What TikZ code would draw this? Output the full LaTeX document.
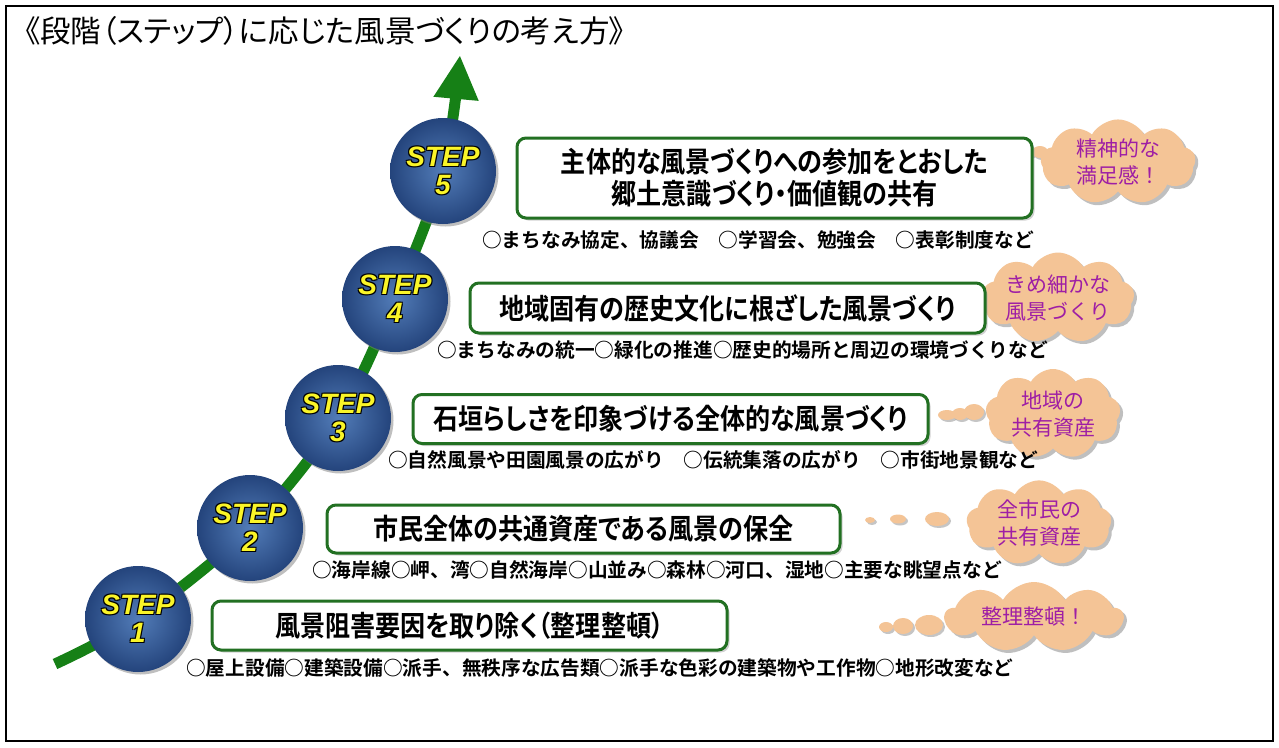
\documentclass[tikz,border=0pt]{standalone}
\usepackage{fontspec}
\newfontfamily\jp{Noto Sans CJK JP}[BoldFont={* Bold}]
\newfontfamily\jptitle{Noto Sans CJK JP}[RawFeature=+palt]
\newfontfamily\jpbox{Noto Sans CJK JP Bold}[RawFeature=+palt, FakeStretch=0.88]
\newfontfamily\stepfont{Liberation Sans}
\usetikzlibrary{shapes.symbols,shadows,arrows.meta}
\pgfdeclarelayer{background}
\pgfsetlayers{background,main}
\definecolor{lineGreen}{RGB}{22,128,22}
\definecolor{boxGreen}{RGB}{34,112,34}
\definecolor{ballIn}{RGB}{82,124,184}
\definecolor{ballOut}{RGB}{36,68,124}
\definecolor{stepYellow}{RGB}{250,245,40}
\definecolor{cloudFill}{RGB}{244,196,150}
\definecolor{cloudText}{RGB}{158,30,165}
\newcommand\stepoutline[1]{\leavevmode
  \rlap{\color{black}\kern1pt\raisebox{-1pt}{#1}}%
  \rlap{\color{black}\kern-1pt\raisebox{1pt}{#1}}%
  \rlap{\color{black}\kern1pt\raisebox{1pt}{#1}}%
  \rlap{\color{black}\kern-1pt\raisebox{-1pt}{#1}}%
  {\color{stepYellow}#1}}
\tikzset{
  stepball/.style={circle, minimum size=106pt, inner sep=0pt, inner color=ballIn, outer color=ballOut,
    drop shadow={shadow xshift=2.5pt, shadow yshift=-2.5pt, fill=black!50, opacity=0.5},
    align=center, font=\stepfont\bfseries\itshape\fontsize{28}{28}\selectfont},
  textbox/.style={draw=boxGreen, line width=3pt, rounded corners=9pt, fill=white,
    drop shadow={shadow xshift=2.5pt, shadow yshift=-2.5pt, fill=black!35, opacity=0.5},
    inner sep=0pt, align=center, font=\jpbox\fontsize{28.5}{32}\selectfont},
  subline/.style={anchor=west, inner sep=0pt, font=\jp\bfseries\fontsize{19.7}{20}\selectfont},
  cloudnode/.style={cloud, cloud puffs=9, cloud puff arc=120, cloud ignores aspect, fill=cloudFill,
    drop shadow={shadow xshift=3pt, shadow yshift=-3pt, fill=black!50, opacity=0.5},
    inner sep=0pt, align=center, text=cloudText, font=\jp\fontsize{21}{27}\selectfont},
  puff/.style={fill=cloudFill, drop shadow={shadow xshift=2pt, shadow yshift=-2pt, fill=black!45, opacity=0.5}},
  greenpath/.style={draw=lineGreen, line width=11pt, -{Triangle[length=44pt,width=42pt]}},
  frameline/.style={draw=black, line width=1.2pt},
  titletext/.style={anchor=west, inner sep=0pt, font=\jptitle\fontsize{30.5}{30.5}\selectfont}
}
\begin{document}
\begin{tikzpicture}[x=1pt,y=-1pt]
\useasboundingbox (0,0) rectangle (1279,747);
\begin{pgfonlayer}{background}
\fill[white] (0,0) rectangle (1279,747);
\end{pgfonlayer}
\draw[frameline] (6,6) rectangle (1273,741);
\node[titletext] (title) at (25,31) {《段階（ステップ）に応じた風景づくりの考え方》};

% thought clouds with their tails
\path[puff] (1016,151) ellipse (6 and 4);
\path[puff] (1028,152) ellipse (7 and 5);
\path[puff] (1040,152) ellipse (8 and 6);
\node[cloudnode, minimum width=155pt, minimum height=82pt] (c5) at (1118,162) {精神的な\\満足感！};

\path[puff] (957,298) ellipse (8 and 5);
\path[puff] (970,297) ellipse (9 and 6);
\path[puff] (984,295) ellipse (10 and 7);
\node[cloudnode, minimum width=130pt, minimum height=78pt] (c4) at (1058,298) {きめ細かな\\風景づくり};

\path[puff] (947,415) ellipse (9 and 5);
\path[puff] (960,414) ellipse (8 and 6);
\path[puff] (974,412) ellipse (10 and 8);
\node[cloudnode, minimum width=135pt, minimum height=90pt] (c3) at (1053,414) {地域の\\共有資産};

\path[puff] (870,520) ellipse (5 and 3);
\path[puff] (898,519) ellipse (8 and 4.5);
\path[puff] (937,519) ellipse (12 and 7);
\node[cloudnode, minimum width=145pt, minimum height=78pt] (c2) at (1039,523) {全市民の\\共有資産};

\path[puff] (886,627) ellipse (7 and 5);
\path[puff] (903,626) ellipse (10 and 8);
\path[puff] (929,625) ellipse (14 and 10);
\node[cloudnode, minimum width=178pt, minimum height=70pt] (c1) at (1034,617) {整理整頓！};

% boxes
\node[textbox, minimum width=515pt, minimum height=80pt] (b5) at (774.5,178) {主体的な風景づくりへの参加をとおした\\郷土意識づくり・価値観の共有};
\node[textbox, minimum width=515pt, minimum height=50pt] (b4) at (727.5,308) {地域固有の歴史文化に根ざした風景づくり};
\node[textbox, minimum width=515pt, minimum height=49pt] (b3) at (670.5,419) {石垣らしさを印象づける全体的な風景づくり};
\node[textbox, minimum width=513pt, minimum height=48pt] (b2) at (583.5,529) {市民全体の共通資産である風景の保全};
\node[textbox, minimum width=515pt, minimum height=49pt] (b1) at (469.5,625.5) {風景阻害要因を取り除く（整理整頓）};

% example lines
\node[subline] (t5) at (482,240) {○まちなみ協定、協議会　○学習会、勉強会　○表彰制度など};
\node[subline] (t4) at (437,350) {○まちなみの統一○緑化の推進○歴史的場所と周辺の環境づくりなど};
\node[subline] (t3) at (388,460) {○自然風景や田園風景の広がり　○伝統集落の広がり　○市街地景観など};
\node[subline] (t2) at (312,570) {○海岸線○岬、湾○自然海岸○山並み○森林○河口、湿地○主要な眺望点など};
\node[subline] (t1) at (186,668) {○屋上設備○建築設備○派手、無秩序な広告類○派手な色彩の建築物や工作物○地形改変など};

% step balls
\node[stepball] (s1) at (138,619) {\stepoutline{STEP}\\\stepoutline{1}};
\node[stepball] (s2) at (250,528) {\stepoutline{STEP}\\\stepoutline{2}};
\node[stepball] (s3) at (338,418) {\stepoutline{STEP}\\\stepoutline{3}};
\node[stepball] (s4) at (395,299) {\stepoutline{STEP}\\\stepoutline{4}};
\node[stepball] (s5) at (443,171) {\stepoutline{STEP}\\\stepoutline{5}};

\coordinate (start) at (55,664);
\coordinate (tip) at (460,55);
\begin{pgfonlayer}{background}
\draw[greenpath] plot[smooth, tension=0.55] coordinates {(start) (s1.center) (s2.center) (s3.center) (s4.center) (s5.center) (tip)};
\end{pgfonlayer}
\end{tikzpicture}
\end{document}
